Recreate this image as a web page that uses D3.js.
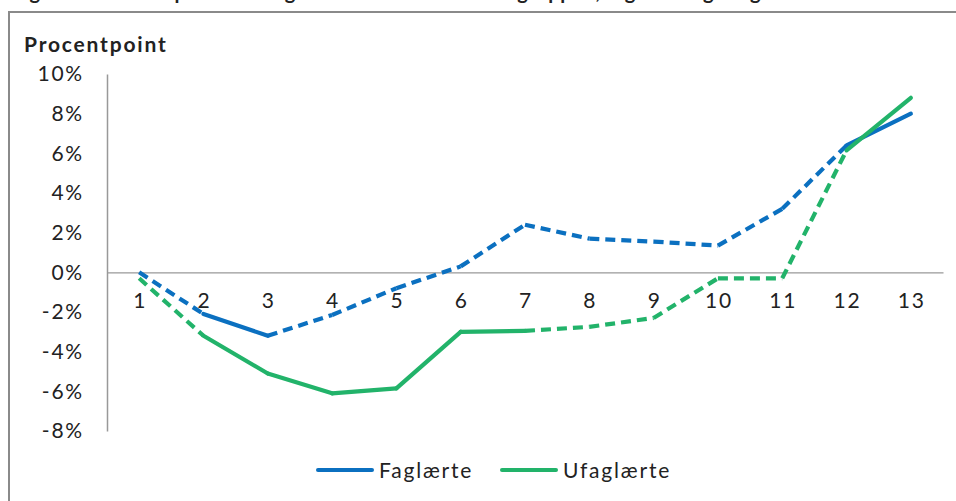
<!DOCTYPE html>
<html>
<head>
<meta charset="utf-8">
<script src="https://cdn.jsdelivr.net/npm/d3@7"></script>
<style>
  body { margin: 0; background: #fff; }
  svg text { font-family: Lato, "Open Sans", sans-serif; fill: #222; letter-spacing: 1.8px; }
</style>
</head>
<body>
<svg id="chart" width="956" height="501"></svg>
<script>
// data
const periods = [1, 2, 3, 4, 5, 6, 7, 8, 9, 10, 11, 12, 13];
const faglaerte = [0.0, -2.1, -3.2, -2.15, -0.8, 0.3, 2.4, 1.7, 1.55, 1.35, 3.2, 6.4, 8.0];
const ufaglaerte = [-0.3, -3.2, -5.1, -6.1, -5.85, -3.0, -2.95, -2.75, -2.3, -0.3, -0.3, 6.15, 8.8];
// 1 = solid segment (from point i to i+1), 0 = dashed
const faglaerteSolid = [0, 1, 0, 0, 0, 0, 0, 0, 0, 0, 0, 1];
const ufaglaerteSolid = [0, 1, 1, 1, 1, 1, 0, 0, 0, 0, 0, 1];
const yTicks = [10, 8, 6, 4, 2, 0, -2, -4, -6, -8];
const seriesNames = ["Faglærte", "Ufaglærte"];
const colors = ["#0b70c0", "#22b36a"];

const svg = d3.select("#chart");

// figure title, cut off by the top edge as in the source
svg.append("text")
  .attr("x", 12).attr("y", -1)
  .style("font-weight", "bold").style("font-size", "20px")
  .style("letter-spacing", "0.6px")
  .text("Figur 4.1 Forskel på beskæftigelse i forhold til kontrolgruppen, faglærte og ufaglærte");

// frame
svg.append("rect")
  .attr("x", 9).attr("y", 12).attr("width", 1000).attr("height", 600)
  .attr("fill", "#fff").attr("stroke", "#8a8a8a").attr("stroke-width", 2);

svg.append("text")
  .attr("x", 24).attr("y", 52)
  .style("font-weight", "bold").style("font-size", "21px")
  .text("Procentpoint");

const plot = { left: 107, right: 943, top: 74, bottom: 431 };

const x = d3.scaleBand().domain(periods).range([plot.left, plot.right]);
const y = d3.scaleLinear().domain([-8, 10]).range([plot.bottom, plot.top]);
const cx = d => x(d) + x.bandwidth() / 2;

// y axis
const yAxis = svg.append("g")
  .attr("transform", `translate(${plot.left},0)`)
  .call(d3.axisLeft(y).tickValues(yTicks).tickSize(0).tickPadding(23)
    .tickFormat(d => d + "%"));
yAxis.select(".domain").attr("stroke", "#999").attr("stroke-width", 1.5);
yAxis.selectAll("text").style("font-size", "21px").attr("fill", "#222")
  .style("font-family", "Lato, sans-serif");

// zero line with category labels
const xAxis = svg.append("g")
  .attr("transform", `translate(0,${y(0)})`)
  .call(d3.axisBottom(x).tickSize(0).tickPadding(21));
xAxis.select(".domain").attr("stroke", "#999").attr("stroke-width", 1.2);
xAxis.selectAll("text").style("font-size", "21px").attr("fill", "#222")
  .style("font-family", "Lato, sans-serif").attr("dx", "1px");

// lines, drawn segment by segment so solid and dashed parts differ
function drawSeries(values, solid, color) {
  const segs = d3.pairs(values.map((v, i) => [cx(periods[i]), y(v)]));
  const line = d3.line();
  svg.append("g").selectAll("path")
    .data(segs)
    .join("path")
    .attr("d", d => line(d))
    .attr("fill", "none")
    .attr("stroke", color)
    .attr("stroke-width", 4.2)
    .attr("stroke-linecap", (d, i) => solid[i] ? "round" : "butt")
    .attr("stroke-dasharray", (d, i) => solid[i] ? null : "10,6");
}
drawSeries(faglaerte, faglaerteSolid, colors[0]);
drawSeries(ufaglaerte, ufaglaerteSolid, colors[1]);

// legend
const legend = svg.append("g").attr("transform", "translate(318,470)");
const items = legend.selectAll("g").data(seriesNames).join("g")
  .attr("transform", (d, i) => `translate(${i * 184},0)`);
items.append("line")
  .attr("x1", 0).attr("x2", 54).attr("y1", 0).attr("y2", 0)
  .attr("stroke", (d, i) => colors[i]).attr("stroke-width", 4)
  .attr("stroke-linecap", "round");
items.append("text")
  .attr("x", 61).attr("y", 8)
  .style("font-size", "21px")
  .text(d => d);
</script>
</body>
</html>
